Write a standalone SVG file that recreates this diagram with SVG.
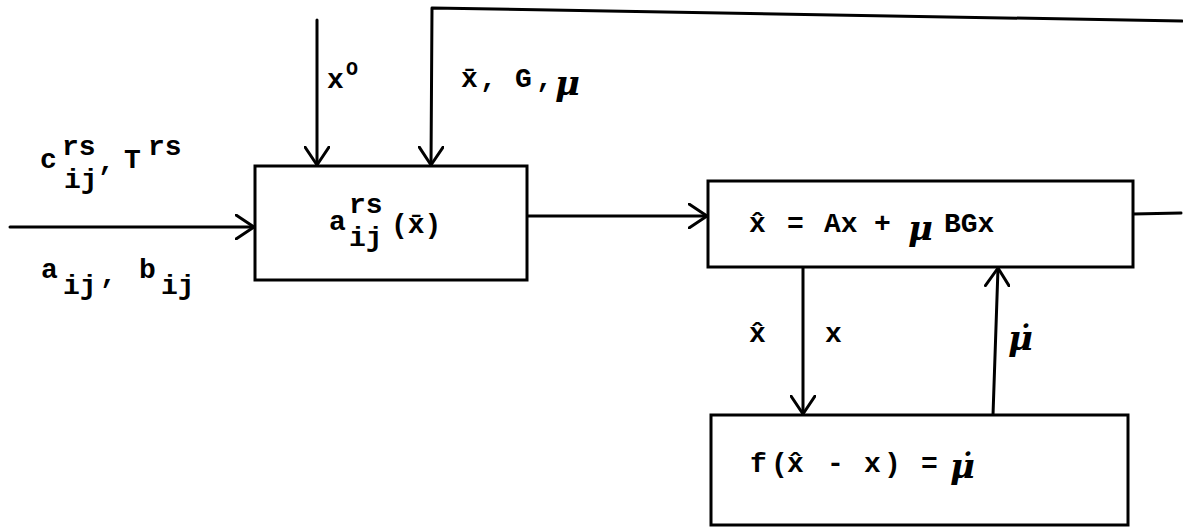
<svg xmlns="http://www.w3.org/2000/svg" width="1183" height="530" viewBox="0 0 1183 530">
<style>
.ln{stroke:#000;stroke-width:3;fill:none;stroke-linecap:round;stroke-linejoin:round}
.bx{stroke:#000;stroke-width:3;fill:#fff}
.t{font-family:"Liberation Mono","DejaVu Sans Mono",monospace;font-weight:bold;font-size:28px;fill:#000}
.mu{font-family:"DejaVu Serif","Liberation Serif",serif;font-style:italic;font-weight:bold;font-size:34px;fill:#000}
</style>
<defs>
<marker id="ah" markerUnits="userSpaceOnUse" viewBox="0 0 20 26" refX="19" refY="13" markerWidth="20" markerHeight="26" orient="auto">
<path d="M1,1 L19,13 L1,25" fill="none" stroke="#000" stroke-width="3" stroke-linecap="round" stroke-linejoin="round"/>
</marker>
</defs>

<g id="connectors">
<line class="ln" x1="10" y1="227" x2="254" y2="227" marker-end="url(#ah)"/>
<line class="ln" x1="317" y1="20" x2="317" y2="165" marker-end="url(#ah)"/>
<polyline class="ln" points="1182,21 432,8 431,165" marker-end="url(#ah)"/>
<line class="ln" x1="527" y1="216" x2="707" y2="216" marker-end="url(#ah)"/>
<line class="ln" x1="1133" y1="214" x2="1181" y2="213"/>
<line class="ln" x1="803" y1="267" x2="803" y2="414" marker-end="url(#ah)"/>
<line class="ln" x1="993" y1="415" x2="998" y2="268" marker-end="url(#ah)"/>
</g>

<g id="labels">
<text class="t"><tspan x="40" y="168">c</tspan><tspan x="62" y="155">rs</tspan><tspan x="64" y="188">ij</tspan><tspan x="98" y="170">,</tspan><tspan x="124" y="168">T</tspan><tspan x="148" y="155">rs</tspan></text>
<text class="t"><tspan x="41" y="278">a</tspan><tspan x="63" y="294">ij</tspan><tspan x="100" y="283">,</tspan><tspan x="139" y="278">b</tspan><tspan x="161" y="294">ij</tspan></text>
<text class="t"><tspan x="327" y="88">x</tspan><tspan x="346" y="75" font-size="20">O</tspan></text>
<text class="t"><tspan x="461" y="87">x̄</tspan><tspan x="480" y="87">,</tspan><tspan x="515" y="87">G</tspan><tspan x="536" y="87">,</tspan></text>
<text class="mu" x="555" y="95" font-size="38">μ</text>
<text class="t" x="749" y="342">x̂</text>
<text class="t" x="825" y="342">x</text>
<text class="mu" x="1008" y="350" font-size="42">μ̇</text>
</g>

<g id="node-a">
<rect class="bx" x="255" y="166" width="272" height="114"/>
<text class="t"><tspan x="329" y="230">a</tspan><tspan x="349" y="213">rs</tspan><tspan x="349" y="246">ij</tspan><tspan x="391" y="233">(x̄)</tspan></text>
</g>

<g id="node-model">
<rect class="bx" x="708" y="181" width="425" height="86"/>
<text class="t"><tspan x="749" y="232">x̂</tspan><tspan x="787" y="232">=</tspan><tspan x="824" y="232">Ax</tspan><tspan x="874" y="232">+</tspan><tspan x="944" y="232">BGx</tspan></text>
<text class="mu" x="908" y="240">μ</text>
</g>

<g id="node-f">
<rect class="bx" x="711" y="415" width="417" height="110"/>
<text class="t"><tspan x="750" y="472">f</tspan><tspan x="771" y="472">(</tspan><tspan x="787" y="472">x̂</tspan><tspan x="827" y="472">-</tspan><tspan x="864" y="472">x</tspan><tspan x="884" y="472">)</tspan><tspan x="921" y="472">=</tspan></text>
<text class="mu" x="950" y="478" font-size="42">μ̇</text>
</g>
</svg>
